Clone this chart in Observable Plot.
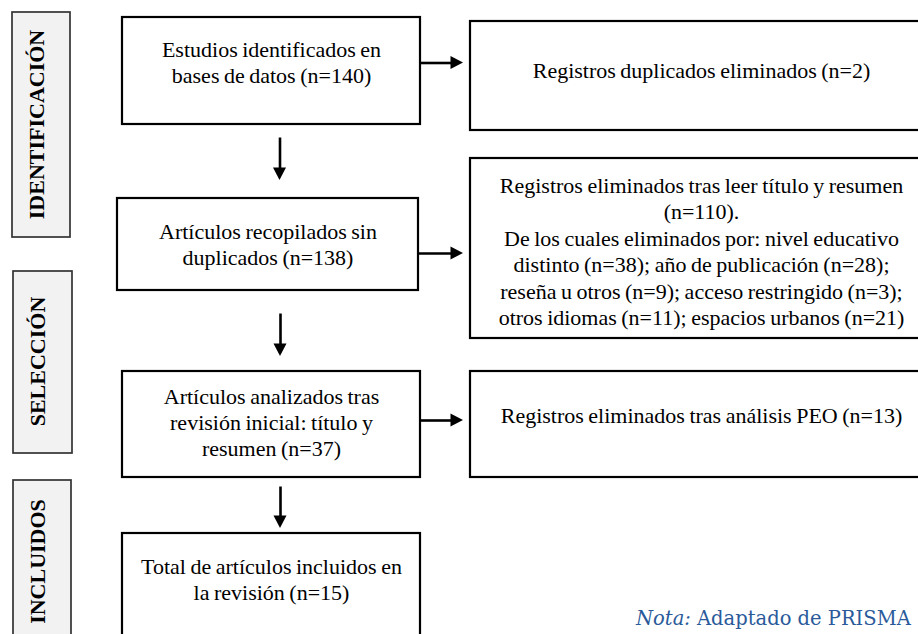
<!DOCTYPE html>
<html>
<head>
<meta charset="utf-8">
<script src="https://cdn.jsdelivr.net/npm/d3@7"></script>
<script src="https://cdn.jsdelivr.net/npm/@observablehq/plot@0.6"></script>
<style>
  html, body { margin: 0; padding: 0; background: #fff; overflow: hidden; }
  #wrap { position: relative; width: 918px; height: 634px; overflow: hidden; }
  #note { position: absolute; left: 636px; top: 607px; font-family: "DejaVu Serif", serif; font-size: 19.5px; color: #2a5a9a; white-space: nowrap; }
</style>
</head>
<body>
<div id="wrap">
  <div id="chart"></div>
  <div id="note"><i>Nota:</i> Adaptado de PRISMA</div>
</div>
<script>
// ---- data ----
const stages = ["IDENTIFICACIÓN", "SELECCIÓN", "INCLUIDOS"];
const mainLabels = [
  "Estudios identificados en\nbases de datos",
  "Artículos recopilados sin\nduplicados",
  "Artículos analizados tras\nrevisión inicial: título y\nresumen",
  "Total de artículos incluidos en\nla revisión"
];
const mainCounts = [140, 138, 37, 15];
const exclLabels = [
  "Registros duplicados eliminados",
  "Registros eliminados tras leer título y resumen",
  "Registros eliminados tras análisis PEO"
];
const exclCounts = [2, 110, 13];
const reasonLabels = ["nivel educativo\ndistinto", "año de publicación", "reseña u otros", "acceso restringido", "otros idiomas", "espacios urbanos"];
const reasonCounts = [38, 28, 9, 3, 11, 21];

// ---- texts built from data ----
const mainTexts = mainLabels.map((l, i) => `${l} (n=${mainCounts[i]})`);
const rs = reasonLabels.map((l, i) => `${l} (n=${reasonCounts[i]})`);
const exclTexts = [
  `${exclLabels[0]} (n=${exclCounts[0]})`,
  `${exclLabels[1]}\n(n=${exclCounts[1]}).\nDe los cuales eliminados por: ${rs[0]}; ${rs[1]};\n${rs[2]}; ${rs[3]};\n${rs[4]}; ${rs[5]}`,
  `${exclLabels[2]} (n=${exclCounts[2]})`
];

// ---- layout (diagram coordinates) ----
const mainGeo = [
  {x1: 122, x2: 420, y1: 17, y2: 124, ty: 61},
  {x1: 117, x2: 418, y1: 198, y2: 290, ty: 243},
  {x1: 122, x2: 420, y1: 371, y2: 477, ty: 421},
  {x1: 122, x2: 420, y1: 533, y2: 660, ty: 578}
];
const exclGeo = [
  {x1: 470, x2: 935, y1: 21, y2: 130, ty: 69.5},
  {x1: 470, x2: 935, y1: 158, y2: 338, ty: 250},
  {x1: 470, x2: 935, y1: 371, y2: 477, ty: 414.5}
];
const stageGeo = [
  {x1: 12, x2: 70, y1: 12, y2: 237, tx: 36, ty: 124},
  {x1: 13, x2: 72, y1: 271, y2: 453, tx: 37, ty: 361},
  {x1: 13, x2: 71, y1: 480, y2: 643, tx: 37, ty: 561}
];
const hArrows = [
  {y: 62.5, x1: 420, x2: 463},
  {y: 253, x1: 418, x2: 463},
  {y: 420, x1: 420, x2: 463}
];
const vArrows = [
  {x: 279.5, y1: 137, y2: 180},
  {x: 280, y1: 313, y2: 356},
  {x: 280, y1: 486, y2: 528}
];
const headLen = 12.5, headHalf = 6.5;

const mainBoxes = mainTexts.map((t, i) => ({text: t, ...mainGeo[i]}));
const exclBoxes = exclTexts.map((t, i) => ({text: t, ...exclGeo[i]}));
const stageBoxes = stages.map((t, i) => ({text: t, ...stageGeo[i]}));

const hShafts = hArrows.map(a => ({x1: a.x1, x2: a.x2 - headLen + 1, y: a.y}));
const vShafts = vArrows.map(a => ({y1: a.y1, y2: a.y2 - headLen + 1, x: a.x}));
const hHeads = hArrows.flatMap((a, i) => [
  {id: i, x: a.x2 - headLen, y1: a.y - headHalf, y2: a.y + headHalf},
  {id: i, x: a.x2, y1: a.y, y2: a.y}
]);
const vHeads = vArrows.flatMap((a, i) => [
  {id: i, y: a.y2 - headLen, x1: a.x - headHalf, x2: a.x + headHalf},
  {id: i, y: a.y2, x1: a.x, x2: a.x}
]);

const serif = "'Liberation Serif', 'Times New Roman', serif";

const chart = Plot.plot({
  width: 918,
  height: 634,
  margin: 0,
  x: {domain: [0, 918], range: [0, 918], axis: null},
  y: {domain: [0, 634], range: [0, 634], axis: null},
  style: {background: "#fff", wordSpacing: "-1px"},
  marks: [
    Plot.rect(stageBoxes, {x1: "x1", x2: "x2", y1: "y1", y2: "y2", fill: "#f2f2f2", stroke: "#333", strokeWidth: 1.7}),
    Plot.text(stageBoxes, {x: "tx", y: "ty", text: "text", rotate: -90, fontFamily: serif, fontWeight: "bold", fontSize: 22, fill: "#000"}),
    Plot.rect(mainBoxes, {x1: "x1", x2: "x2", y1: "y1", y2: "y2", fill: "#fff", stroke: "#000", strokeWidth: 2.2}),
    Plot.rect(exclBoxes, {x1: "x1", x2: "x2", y1: "y1", y2: "y2", fill: "#fff", stroke: "#000", strokeWidth: 2.2}),
    Plot.text(mainBoxes, {x: d => (d.x1 + d.x2) / 2, y: "ty", text: "text", fontFamily: serif, fontSize: 22, lineHeight: 1.2, fill: "#000"}),
    Plot.text(exclBoxes, {x: 701, y: "ty", text: "text", fontFamily: serif, fontSize: 22, lineHeight: 1.2, fill: "#000"}),
    Plot.link(hShafts, {x1: "x1", x2: "x2", y1: "y", y2: "y", stroke: "#000", strokeWidth: 2.6}),
    Plot.link(vShafts, {x1: "x", x2: "x", y1: "y1", y2: "y2", stroke: "#000", strokeWidth: 2.6}),
    Plot.areaY(hHeads, {x: "x", y1: "y1", y2: "y2", z: "id", fill: "#000"}),
    Plot.areaX(vHeads, {y: "y", x1: "x1", x2: "x2", z: "id", fill: "#000"})
  ]
});
document.getElementById("chart").appendChild(chart);
</script>
</body>
</html>
